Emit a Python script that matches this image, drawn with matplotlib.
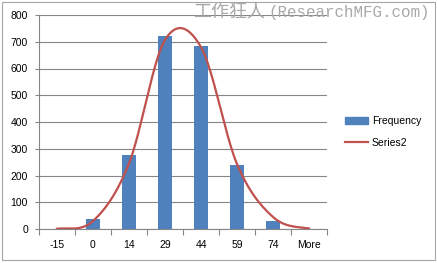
import numpy as np
import matplotlib.pyplot as plt
from matplotlib.patches import Rectangle
from matplotlib.lines import Line2D

# categorii (bins) si valori
categorii = ["-15", "0", "14", "29", "44", "59", "74", "More"]
frecventa = [0, 37, 277, 722, 684, 239, 31, 0]
series2 = [1, 30, 245, 707, 680, 243, 45, 2]

bar_color = "#4F81BD"
line_color = "#C0504D"
grid_color = "#868686"

plt.rcParams['font.family'] = ['Liberation Sans', 'DejaVu Sans']


def catmull_rom(y, n=40):
    # netezire ca in Excel (smoothed line), doar pentru desen
    y = np.asarray(y, dtype=float)
    p = np.concatenate([[y[0]], y, [y[-1]]])
    xs, ys = [], []
    for i in range(len(y) - 1):
        p0, p1, p2, p3 = p[i], p[i + 1], p[i + 2], p[i + 3]
        t = np.linspace(0, 1, n)
        v = 0.5 * ((2 * p1) + (-p0 + p2) * t + (2 * p0 - 5 * p1 + 4 * p2 - p3) * t ** 2
                   + (-p0 + 3 * p1 - 3 * p2 + p3) * t ** 3)
        xs.append(i + t)
        ys.append(v)
    return np.concatenate(xs), np.concatenate(ys)


fig = plt.figure(figsize=(4.37, 2.63), dpi=100)
ax = fig.add_axes([39 / 437, 34 / 263, 288 / 437, 214 / 263])

x = np.arange(len(categorii))
ax.bar(x, frecventa, width=0.4, color=bar_color, zorder=2)
cx, cy = catmull_rom(series2)
ax.plot(cx, cy, color=line_color, lw=1.6, zorder=3)

ax.set_xlim(-0.5, len(categorii) - 0.5)
ax.set_ylim(0, 800)
ax.set_yticks(range(0, 801, 100))
ax.yaxis.grid(True, color=grid_color, lw=0.8)
ax.set_axisbelow(True)
for s in ["top", "right"]:
    ax.spines[s].set_visible(False)
for s in ["left", "bottom"]:
    ax.spines[s].set_color(grid_color)
    ax.spines[s].set_linewidth(0.8)

ax.set_xticks(x)
ax.set_xticklabels(categorii)
ax.set_xticks(np.arange(-0.5, len(categorii)), minor=True)
ax.tick_params(axis="x", which="major", length=0, pad=8, labelsize=7.5)
ax.tick_params(axis="x", which="minor", length=4, color=grid_color, width=0.8)
ax.tick_params(axis="y", length=3, color=grid_color, width=0.8, pad=5, labelsize=7.5)

# legenda
handles = [Rectangle((0, 0), 1, 1, color=bar_color),
           Line2D([0], [0], color=line_color, lw=1.6)]
fig.legend(handles, ["Frequency", "Series2"], loc="upper left",
           bbox_to_anchor=(336 / 437, 1 - 107 / 263), frameon=False,
           fontsize=7.5, handlelength=2.2, handletextpad=0.35, labelspacing=1.1)

# watermark
fig.text(193 / 437, 1 - 12 / 263, "工作狂人", family=['Noto Sans CJK SC', 'DejaVu Sans'],
         fontsize=13, color="#a8a8a8", va="center", ha="left", style="italic")
fig.text(268 / 437, 1 - 12 / 263, "(ResearchMFG.com)", family=['Liberation Mono', 'DejaVu Sans Mono'],
         fontsize=11.4, color="#a8a8a8", va="center", ha="left")

# chenarul graficului
fig.patches.append(Rectangle((1.5 / 437, 1 - 259.5 / 263), 433.5 / 437, 258 / 263,
                             transform=fig.transFigure, fill=False, ec="#a6a6a6", lw=0.8))

plt.savefig("out.png", dpi=100)
